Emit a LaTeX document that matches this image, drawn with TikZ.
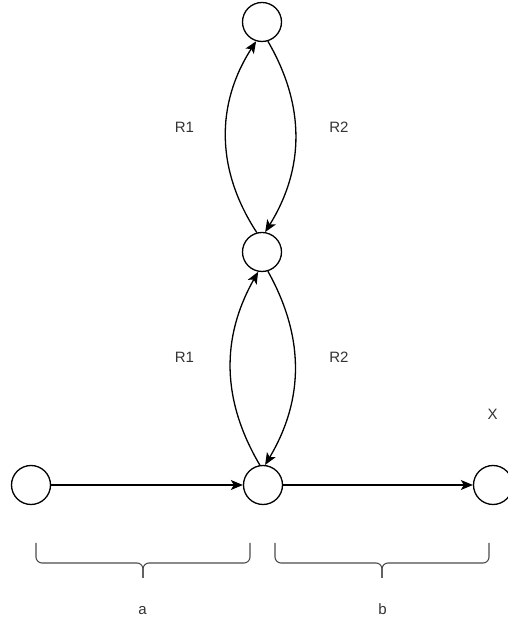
\documentclass[tikz,border=0pt]{standalone}
\usepackage{fontspec}
\setmainfont{Liberation Sans}
\usetikzlibrary{arrows.meta}
\begin{document}
\begin{tikzpicture}[x=1pt,y=1pt,
  state/.style={circle,draw,line width=1.3pt,minimum size=39pt,inner sep=0pt},
  arr/.style={line width=1.3pt,-{Stealth[length=12pt,width=10pt,inset=3pt]}},
  lbl/.style={font=\fontsize{15}{18}\selectfont,text=black!80},
  brace/.style={draw=black!70,line width=1.1pt,rounded corners=6pt}]
\useasboundingbox (0,0) rectangle (507,626);
\node[state] (top) at (262,604) {};
\node[state] (mid) at (262,374) {};
\node[state] (ctr) at (263,141) {};
\node[state] (lft) at (31,141) {};
\node[state] (rgt) at (493,141) {};
\draw[arr] (mid.105) to[bend left=33] (top.253);
\draw[arr] (top.287) to[bend left=31] (mid.81);
\draw[arr] (ctr.99) to[bend left=30] (mid.259);
\draw[arr] (mid.287) to[bend left=30] (ctr.84);
\draw[arr] (lft) -- (ctr);
\draw[arr] (ctr) -- (rgt);
\node[lbl] (r1a) at (184.5,498.5) {R1};
\node[lbl] (r2a) at (339,498.5) {R2};
\node[lbl] (r1b) at (184.5,269) {R1};
\node[lbl] (r2b) at (339,269) {R2};
\node[lbl] (x) at (492.5,212) {X};
\node[lbl] (a) at (142.5,15.5) {a};
\node[lbl] (b) at (382.5,17) {b};
\path[brace] (36,83) -- (36,63) -- (143,63) -- (143,48);
\path[brace] (250,83) -- (250,63) -- (143,63) -- (143,48);
\path[brace] (275,83) -- (275,63) -- (382,63) -- (382,48);
\path[brace] (489,83) -- (489,63) -- (382,63) -- (382,48);
\end{tikzpicture}
\end{document}
